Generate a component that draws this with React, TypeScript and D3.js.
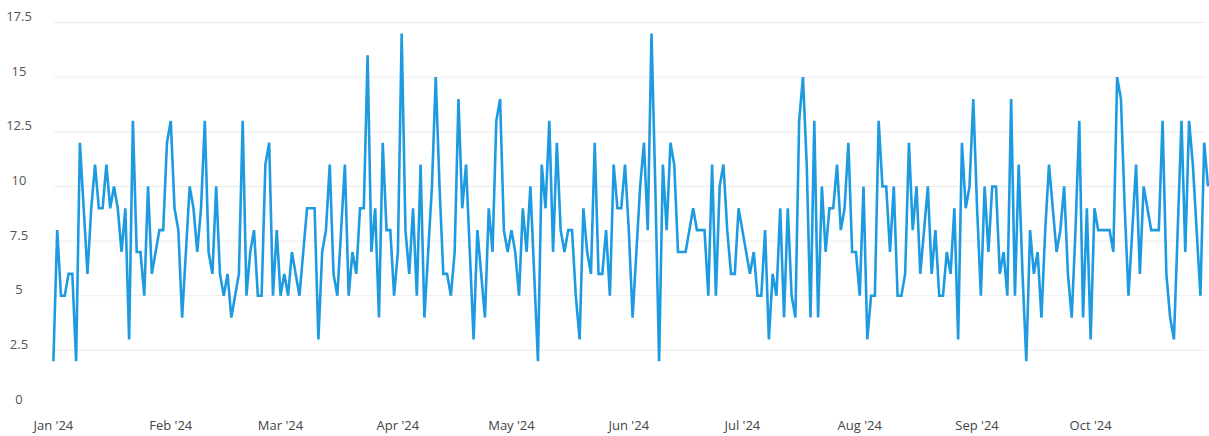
import { useEffect, useRef } from 'react';
import * as d3 from 'd3';

// daily values, Jan 1 2024 onwards
const janValues = [2, 8, 5, 5, 6, 6, 2, 12, 9, 6, 9, 11, 9, 9, 11, 9, 10, 9, 7, 9, 3, 13, 7, 7, 5, 10, 6, 7, 8, 8, 12];
const febValues = [13, 9, 8, 4, 7, 10, 9, 7, 9, 13, 7, 6, 10, 6, 5, 6, 4, 5, 6, 13, 5, 7, 8, 5, 5, 11, 12, 5, 8];
const marValues = [5, 6, 5, 7, 6, 5, 7, 9, 9, 9, 3, 7, 8, 11, 6, 5, 8, 11, 5, 7, 6, 9, 9, 16, 7, 9, 4, 12, 8, 8, 5];
const aprValues = [7, 17, 8, 6, 9, 5, 11, 4, 7, 10, 15, 10, 6, 6, 5, 7, 14, 9, 11, 7, 3, 8, 6, 4, 9, 7, 13, 14, 8, 7];
const mayValues = [8, 7, 5, 9, 7, 10, 6, 2, 11, 9, 13, 7, 12, 8, 7, 8, 8, 5, 3, 9, 7, 6, 12, 6, 6, 8, 5, 11, 9, 9, 11];
const junValues = [8, 4, 7, 10, 12, 8, 17, 10, 2, 11, 8, 12, 11, 7, 7, 7, 8, 9, 8, 8, 8, 5, 11, 5, 10, 11, 8, 6, 6, 9];
const julValues = [8, 7, 6, 7, 5, 5, 8, 3, 6, 5, 9, 4, 9, 5, 4, 13, 15, 11, 4, 13, 4, 10, 7, 9, 9, 11, 8, 9, 12, 7, 7];
const augValues = [5, 10, 3, 5, 5, 13, 10, 10, 7, 10, 5, 5, 6, 12, 8, 10, 6, 8, 10, 6, 8, 5, 5, 7, 6, 9, 3, 12, 9, 10, 14];
const sepValues = [9, 5, 10, 7, 10, 10, 6, 7, 5, 14, 5, 11, 6, 2, 8, 6, 7, 4, 8, 11, 9, 7, 8, 10, 6, 4, 8, 13, 4, 9];
const octValues = [3, 9, 8, 8, 8, 8, 7, 15, 14, 9, 5, 8, 11, 6, 10, 9, 8, 8, 8, 13, 6, 4, 3, 8, 13, 7, 13, 11, 8, 5, 12];
const novValues = [10];

const yTicks = [0, 2.5, 5, 7.5, 10, 12.5, 15, 17.5];
const monthLabels = ["Jan '24", "Feb '24", "Mar '24", "Apr '24", "May '24", "Jun '24", "Jul '24", "Aug '24", "Sep '24", "Oct '24"];

const WIDTH = 1209;
const HEIGHT = 436;

const App: React.FC = () => {
    const svgRef = useRef<SVGSVGElement>(null);

    useEffect(() => {
        document.body.style.margin = '0';
        if (!svgRef.current) return;

        const values = [
            ...janValues, ...febValues, ...marValues, ...aprValues, ...mayValues,
            ...junValues, ...julValues, ...augValues, ...sepValues, ...octValues, ...novValues,
        ];
        const start = new Date(2024, 0, 1);
        const data = values.map((v, i) => ({ date: d3.timeDay.offset(start, i), value: v }));

        const svg = d3.select(svgRef.current);
        svg.selectAll('*').remove();

        const x = d3.scaleTime()
            .domain([start, data[data.length - 1].date])
            .range([53.4, 1208]);

        const y = d3.scaleLinear()
            .domain([0, 17.5])
            .range([405, 22.5]);

        const font = '"Open Sans", "DejaVu Sans", sans-serif';

        // horizontal grid
        svg.append('g')
            .selectAll('line')
            .data(yTicks.filter(t => t > 0))
            .join('line')
            .attr('x1', 54)
            .attr('x2', 1206)
            .attr('y1', d => y(d))
            .attr('y2', d => y(d))
            .attr('stroke', '#ececec')
            .attr('stroke-width', 1);

        // y labels
        svg.append('g')
            .selectAll('text')
            .data(yTicks)
            .join('text')
            .attr('x', 19)
            .attr('y', d => y(d) - 1.5)
            .attr('text-anchor', 'middle')
            .attr('font-family', font)
            .attr('font-size', 13)
            .attr('fill', '#555')
            .text(d => String(d));

        // x labels
        const months = d3.timeMonth.range(start, new Date(2024, 10, 1));
        svg.append('g')
            .selectAll('text')
            .data(months)
            .join('text')
            .attr('x', d => x(d))
            .attr('y', 429.5)
            .attr('text-anchor', 'middle')
            .attr('font-family', font)
            .attr('font-size', 13)
            .attr('fill', '#444')
            .text((_d, i) => monthLabels[i]);

        const line = d3.line<{ date: Date; value: number }>()
            .x(d => x(d.date))
            .y(d => y(d.value));

        svg.append('path')
            .datum(data)
            .attr('fill', 'none')
            .attr('stroke', '#1e9be0')
            .attr('stroke-width', 2.6)
            .attr('stroke-linejoin', 'miter')
            .attr('d', line);
    }, []);

    return (
        <svg
            ref={svgRef}
            width={WIDTH}
            height={HEIGHT}
            style={{ display: 'block', position: 'absolute', left: 0, top: 0, background: '#fff' }}
        ></svg>
    );
};

export default App;
